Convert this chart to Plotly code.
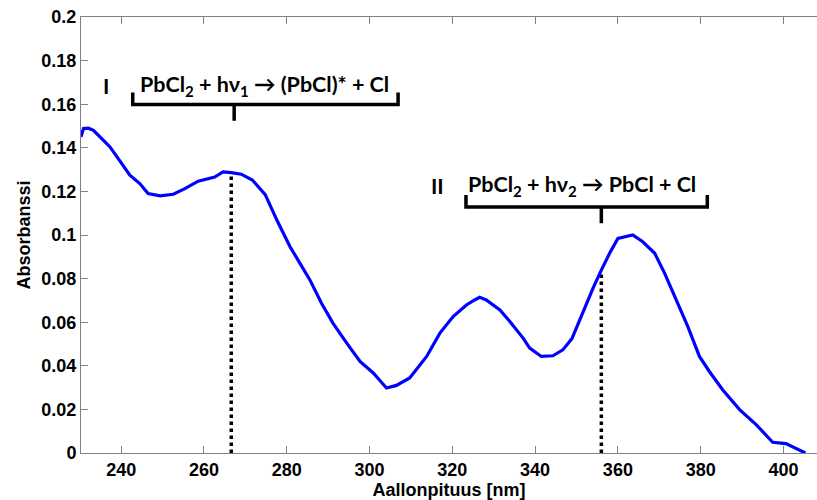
import plotly.graph_objects as go

# Absorption spectrum
wavelength_nm = [230.3, 230.9, 232.1, 233.3, 235.3, 237.3, 239.3, 242.1, 244.5, 246.5,
                 249.4, 252.6, 255.4, 258.6, 262.6, 264.6, 266.6, 269.0, 271.7, 274.8,
                 277.7, 280.8, 283.2, 285.6, 288.4, 291.2, 294.5, 297.7, 300.9, 304.1,
                 306.5, 309.7, 313.8, 317.0, 320.2, 323.4, 325.4, 326.6, 328.2, 331.5,
                 333.9, 337.1, 338.7, 341.5, 344.3, 346.7, 348.9, 351.6, 354.0, 356.0,
                 358.0, 360.0, 362.0, 363.6, 366.0, 368.9, 371.3, 374.1, 376.9, 379.7,
                 382.1, 385.3, 389.4, 393.4, 397.4, 400.6, 403.0, 405.3]
absorbance = [0.145, 0.1488, 0.149, 0.148, 0.1442, 0.1404, 0.135, 0.1274, 0.1236, 0.119,
              0.118, 0.1187, 0.1213, 0.1247, 0.1266, 0.1289, 0.1286, 0.1279, 0.1252, 0.1185,
              0.1065, 0.0946, 0.087, 0.0794, 0.0687, 0.0595, 0.0504, 0.042, 0.0367, 0.0298,
              0.031, 0.0344, 0.0443, 0.055, 0.0626, 0.0679, 0.0702, 0.0714, 0.0702, 0.0656,
              0.0603, 0.0527, 0.0481, 0.0443, 0.0446, 0.0473, 0.0525, 0.065, 0.0756, 0.0839,
              0.0916, 0.0984, 0.0995, 0.1, 0.0969, 0.0916, 0.0824, 0.0702, 0.058, 0.0443,
              0.0374, 0.029, 0.0199, 0.013, 0.0049, 0.0043, 0.0023, 0.0]

# Excitation wavelengths (dotted markers)
excitation_nm = [266.6, 356.0]
excitation_abs = [0.1285, 0.0835]

# Axis ticks
x_ticks = [240, 260, 280, 300, 320, 340, 360, 380, 400]
y_ticks = [0, 0.02, 0.04, 0.06, 0.08, 0.1, 0.12, 0.14, 0.16, 0.18, 0.2]
y_tick_labels = ["0", "0.02", "0.04", "0.06", "0.08", "0.1", "0.12", "0.14", "0.16", "0.18", "0.2"]

# Reaction labels and their brace spans (data coords)
reaction_labels = ["I", "II"]
reaction_label_x = [236.4, 316.3]
reaction_texts = ["PbCl<sub>2</sub> + hν<sub>1</sub> → (PbCl)* + Cl",
                  "PbCl<sub>2</sub> + hν<sub>2</sub> → PbCl + Cl"]
reaction_text_x = [274.6, 351.4]
reaction_text_y = [0.1684, 0.1226]
brace_x0 = [242.8, 323.3]
brace_x1 = [306.9, 381.6]
brace_mid = [267.3, 356.0]
brace_y = [0.1599, 0.1129]

fig = go.Figure()

for xv, yv in zip(excitation_nm, excitation_abs):
    fig.add_trace(go.Scatter(x=[xv, xv], y=[0, yv], mode="lines",
                             line=dict(color="black", width=3.5, dash="dot"),
                             showlegend=False, hoverinfo="skip"))

fig.add_trace(go.Scatter(x=wavelength_nm, y=absorbance, mode="lines",
                         line=dict(color="#0000FF", width=3.2),
                         showlegend=False))

label_font = dict(family="Lato", size=21.5, color="black", weight="bold")
for i in range(2):
    x0, x1, xm, yb = brace_x0[i], brace_x1[i], brace_mid[i], brace_y[i]
    top = yb + 0.0055
    tip = yb - 0.0075
    fig.add_shape(type="path",
                  path=f"M {x0},{top} L {x0},{yb} L {x1},{yb} L {x1},{top}",
                  line=dict(color="black", width=3.5))
    fig.add_shape(type="line", x0=xm, x1=xm, y0=yb, y1=tip,
                  line=dict(color="black", width=3.5))
    fig.add_annotation(x=reaction_text_x[i], y=reaction_text_y[i], text=reaction_texts[i],
                       showarrow=False, yanchor="middle", font=label_font)
    fig.add_annotation(x=reaction_label_x[i], y=reaction_text_y[i], text=reaction_labels[i],
                       showarrow=False, xanchor="center", yanchor="middle", font=label_font)

tick_font = dict(family="Liberation Sans", size=18, color="black", weight="bold")
fig.update_layout(
    width=817, height=500,
    margin=dict(l=81, r=0, t=17, b=47),
    paper_bgcolor="white", plot_bgcolor="white",
    xaxis=dict(range=[230.3, 408.1], tickvals=x_ticks, ticks="inside", ticklen=7,
               tickcolor="#808080", showline=True, linecolor="#808080", linewidth=1,
               mirror="ticks", showgrid=False, zeroline=False, tickfont=tick_font,
               title=dict(text="Aallonpituus [nm]", font=tick_font, standoff=2)),
    yaxis=dict(range=[0, 0.2], tickvals=y_ticks, ticktext=y_tick_labels, ticks="inside",
               ticklen=7, tickcolor="#808080", showline=True, linecolor="#808080",
               linewidth=1, showgrid=False, zeroline=False, tickfont=tick_font,
               title=dict(text="Absorbanssi", font=tick_font, standoff=6)),
)

fig.write_html("out.html")
